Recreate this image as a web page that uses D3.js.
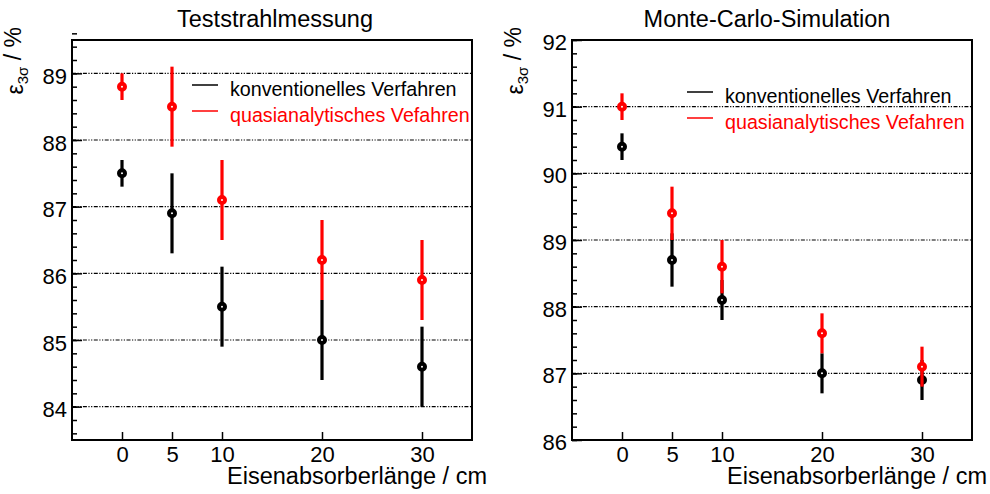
<!DOCTYPE html>
<html>
<head>
<meta charset="utf-8">
<script src="https://cdn.jsdelivr.net/npm/d3@7"></script>
<style>
  body { margin: 0; background: #fff; }
  text { font-family: "Liberation Sans", Arial, sans-serif; }
</style>
</head>
<body>
<div id="chart"></div>
<script>
// data
var lengths = [0, 5, 10, 20, 30];
var xTicks = [0, 5, 10, 20, 30];

var testConv = [87.5, 86.9, 85.5, 85.0, 84.6];
var testConvErr = [0.2, 0.6, 0.6, 0.6, 0.6];
var testQuasi = [88.8, 88.5, 87.1, 86.2, 85.9];
var testQuasiErr = [0.2, 0.6, 0.6, 0.6, 0.6];

var simConv = [90.4, 88.7, 88.1, 87.0, 86.9];
var simConvErr = [0.2, 0.4, 0.3, 0.3, 0.3];
var simQuasi = [91.0, 89.4, 88.6, 87.6, 87.1];
var simQuasiErr = [0.2, 0.4, 0.4, 0.3, 0.3];

var titles = ["Teststrahlmessung", "Monte-Carlo-Simulation"];
var legendLabels = ["konventionelles Verfahren", "quasianalytisches Vefahren"];
var xLabel = "Eisenabsorberlänge / cm";

var svg = d3.select("#chart").append("svg")
    .attr("width", 990)
    .attr("height", 494);

//one panel per measurement
var panels = [
  {left: 72, title: titles[0], yDom: [83.5, 89.5], yMajor: [84, 85, 86, 87, 88, 89],
   conv: testConv, convErr: testConvErr, quasi: testQuasi, quasiErr: testQuasiErr,
   titleX: 275, legX: 120, legY: 85, labDy: 10},
  {left: 572, title: titles[1], yDom: [86, 92], yMajor: [86, 87, 88, 89, 90, 91, 92],
   conv: simConv, convErr: simConvErr, quasi: simQuasi, quasiErr: simQuasiErr,
   titleX: 767, legX: 115, legY: 92, labDy: 9.5}
];

var frameTop = 40, w = 400, h = 400;

panels.forEach(function(p) {
  var x = d3.scaleLinear().domain([-5, 35]).range([0, w]);
  var y = d3.scaleLinear().domain(p.yDom).range([h, 0]);

  var g = svg.append("g").attr("transform", "translate(" + p.left + "," + frameTop + ")");

  // grid lines at major ticks (dash-dot-dot)
  g.append("g").selectAll("line")
    .data(p.yMajor.filter(function(v) { return v > p.yDom[0] && v < p.yDom[1]; }))
    .enter().append("line")
      .attr("x1", 0).attr("x2", w)
      .attr("y1", function(d) { return y(d); })
      .attr("y2", function(d) { return y(d); })
      .attr("stroke", "#000")
      .attr("stroke-width", 1.2)
      .attr("stroke-dasharray", "4,1.5,1.2,1.5,1.2,1.5");

  // minor y ticks
  var minor = d3.range(Math.round(p.yDom[0] * 5), Math.round(p.yDom[1] * 5) + 1)
    .map(function(v) { return v / 5; });
  g.append("g")
    .call(d3.axisLeft(y).tickValues(minor).tickSize(-5).tickFormat(""))
    .call(function(s) { s.select(".domain").remove(); })
    .selectAll("line").attr("stroke-width", 1.5);

  // major y ticks + labels
  var ya = g.append("g")
    .call(d3.axisLeft(y).tickValues(p.yMajor).tickSize(-10).tickPadding(5).tickFormat(d3.format("d")));
  ya.select(".domain").remove();
  ya.selectAll("line").attr("stroke-width", 1.5);
  ya.selectAll("text")
    .attr("dy", p.labDy)
    .style("font-size", "22px")
    .style("font-family", "'Liberation Sans', Arial, sans-serif")
    .attr("fill", "#000");

  // x axis
  var xa = g.append("g")
    .attr("transform", "translate(0," + h + ")")
    .call(d3.axisBottom(x).tickValues(xTicks).tickSize(-8).tickPadding(6));
  xa.select(".domain").remove();
  xa.selectAll("line").attr("stroke-width", 1.5);
  xa.selectAll("text")
    .style("font-size", "22px")
    .style("font-family", "'Liberation Sans', Arial, sans-serif")
    .attr("fill", "#000");

  // frame
  g.append("rect")
    .attr("width", w).attr("height", h)
    .attr("fill", "none")
    .attr("stroke", "#000")
    .attr("stroke-width", 2);

  // title
  svg.append("text")
    .attr("x", p.titleX).attr("y", 27)
    .attr("text-anchor", "middle")
    .style("font-size", "23.5px")
    .text(p.title);

  // x label
  svg.append("text")
    .attr("x", p.left + w + 15).attr("y", 484)
    .attr("text-anchor", "end")
    .style("font-size", "23.5px")
    .text(xLabel);

  // y label
  var yl = svg.append("text")
    .attr("transform", "translate(" + (p.left - 49) + ",27) rotate(-90)")
    .attr("text-anchor", "end")
    .style("font-size", "23px");
  yl.append("tspan").text("ε");
  yl.append("tspan").attr("dy", "0.3em").style("font-size", "15px").text("3σ");
  yl.append("tspan").attr("dy", "-0.3em").text(" / %");

  // series: black first, red on top
  var series = [
    {vals: p.conv, errs: p.convErr, color: "#000"},
    {vals: p.quasi, errs: p.quasiErr, color: "#ff0000"}
  ];
  series.forEach(function(s) {
    var sg = g.append("g");
    sg.selectAll("line.err")
      .data(lengths)
      .enter().append("line")
        .attr("class", "err")
        .attr("x1", function(d) { return x(d); })
        .attr("x2", function(d) { return x(d); })
        .attr("y1", function(d, i) { return y(s.vals[i] + s.errs[i]); })
        .attr("y2", function(d, i) { return y(s.vals[i] - s.errs[i]); })
        .attr("stroke", s.color)
        .attr("stroke-width", 3.2);
    sg.selectAll("circle")
      .data(lengths)
      .enter().append("circle")
        .attr("cx", function(d) { return x(d); })
        .attr("cy", function(d, i) { return y(s.vals[i]); })
        .attr("r", 3)
        .attr("fill", "#fff")
        .attr("stroke", s.color)
        .attr("stroke-width", 4);
  });

  // legend
  var lg = g.append("g").attr("transform", "translate(" + p.legX + "," + (p.legY - frameTop) + ")");
  series.forEach(function(s, i) {
    lg.append("line")
      .attr("x1", 0).attr("x2", 26)
      .attr("y1", i * 26).attr("y2", i * 26)
      .attr("stroke", s.color)
      .attr("stroke-width", 1.5);
    lg.append("text")
      .attr("x", 38).attr("y", i * 26 + 10.5)
      .attr("fill", s.color)
      .style("font-size", "19.7px")
      .text(legendLabels[i]);
  });
});
</script>
</body>
</html>
